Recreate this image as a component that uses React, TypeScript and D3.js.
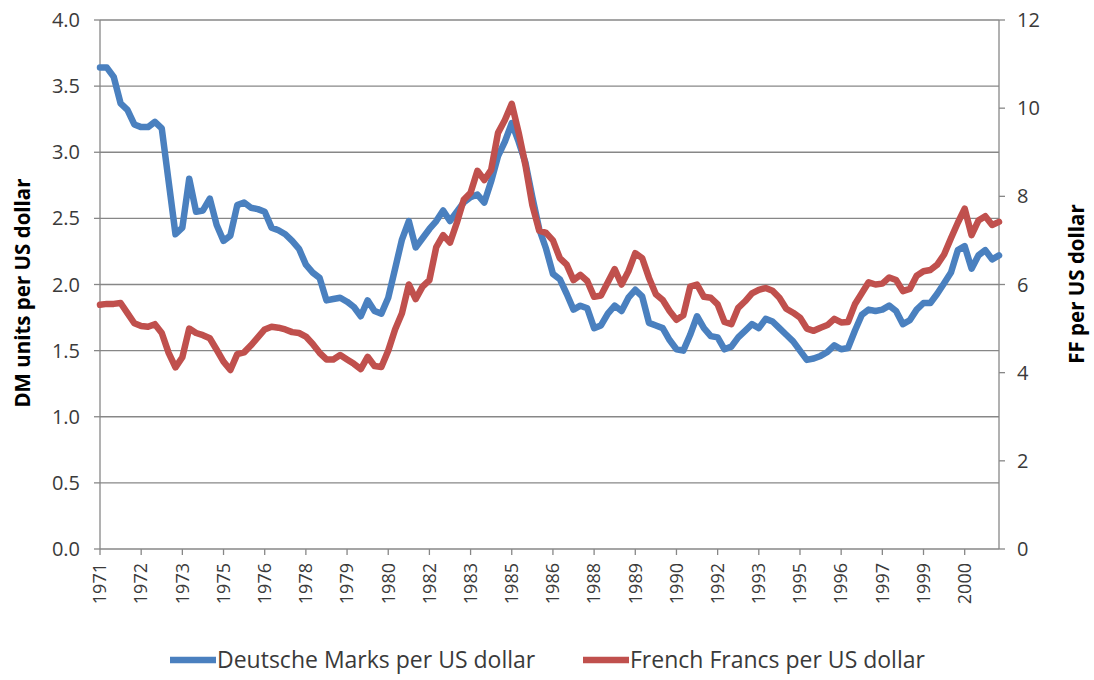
import React from 'react';
import * as d3 from 'd3';

const tickLabels = ['1971','1972','1973','1975','1976','1978','1979','1980','1982','1983','1985','1986','1988','1989','1990','1992','1993','1995','1996','1997','1999','2000'];
const labelEvery = 6;

const dmValues = [
  3.64,3.64,3.57,3.37,3.32,3.21,3.19,3.19,3.23,3.18,
  2.78,2.38,2.43,2.80,2.55,2.56,2.65,2.45,2.33,2.37,
  2.60,2.62,2.58,2.57,2.55,2.43,2.41,2.38,2.33,2.27,
  2.15,2.09,2.05,1.88,1.89,1.90,1.87,1.83,1.76,1.88,
  1.80,1.78,1.90,2.12,2.34,2.48,2.28,2.35,2.42,2.48,
  2.56,2.48,2.55,2.62,2.66,2.68,2.62,2.78,2.97,3.08,
  3.22,3.08,2.92,2.66,2.42,2.27,2.08,2.04,1.93,1.81,
  1.84,1.82,1.67,1.69,1.78,1.84,1.80,1.90,1.96,1.91,
  1.71,1.69,1.67,1.58,1.51,1.50,1.62,1.76,1.67,1.61,
  1.60,1.51,1.53,1.60,1.65,1.70,1.67,1.74,1.72,1.67,
  1.62,1.57,1.50,1.43,1.44,1.46,1.49,1.54,1.51,1.52,
  1.65,1.77,1.81,1.80,1.81,1.84,1.80,1.70,1.73,1.81,
  1.86,1.86,1.93,2.01,2.09,2.26,2.29,2.12,2.22,2.26,
  2.19,2.22
];

const ffValues = [
  5.54,5.56,5.56,5.58,5.35,5.12,5.06,5.04,5.10,4.90,
  4.45,4.12,4.35,5.00,4.90,4.85,4.78,4.52,4.25,4.06,
  4.42,4.46,4.62,4.80,4.98,5.04,5.02,4.98,4.92,4.90,
  4.82,4.65,4.45,4.30,4.30,4.40,4.30,4.20,4.08,4.36,
  4.15,4.13,4.50,4.98,5.35,6.00,5.67,5.95,6.10,6.85,
  7.12,6.95,7.40,7.92,8.08,8.58,8.37,8.60,9.44,9.73,
  10.10,9.45,8.70,7.80,7.22,7.17,7.00,6.60,6.45,6.10,
  6.22,6.08,5.72,5.75,6.05,6.35,6.00,6.30,6.71,6.60,
  6.15,5.78,5.65,5.40,5.20,5.30,5.95,6.00,5.72,5.70,
  5.55,5.15,5.10,5.47,5.62,5.80,5.88,5.92,5.86,5.70,
  5.45,5.36,5.25,5.00,4.95,5.02,5.08,5.22,5.14,5.15,
  5.55,5.80,6.05,6.00,6.02,6.16,6.10,5.85,5.90,6.20,
  6.30,6.33,6.45,6.68,7.05,7.40,7.72,7.12,7.45,7.55,
  7.35,7.42
];

const dmTicks = [0, 0.5, 1.0, 1.5, 2.0, 2.5, 3.0, 3.5, 4.0];
const ffTicks = [0, 2, 4, 6, 8, 10, 12];

const BLUE = '#4A80BF';
const RED = '#C0504D';
const GRID = '#878787';
const FONT = '"Open Sans", "Liberation Sans", sans-serif';

export default function App() {
  const W = 1094, H = 680;
  const left = 100, right = 999, top = 20, bottom = 549;
  const x = d3.scaleLinear().domain([0, dmValues.length - 1]).range([left, right]);
  const yL = d3.scaleLinear().domain([0, 4]).range([bottom, top]);
  const yR = d3.scaleLinear().domain([0, 12]).range([bottom, top]);
  const lineDM = d3.line<number>().x((_, i) => x(i)).y(d => yL(d));
  const lineFF = d3.line<number>().x((_, i) => x(i)).y(d => yR(d));

  return (
    <svg width={W} height={H} style={{ position: 'absolute', left: 0, top: 0, background: '#fff' }} fontFamily={FONT}>
      <rect width={W} height={H} fill="#fff" />
      {dmTicks.filter(t => t > 0).map(t => (
        <line key={'g' + t} x1={left} x2={right} y1={yL(t)} y2={yL(t)} stroke={GRID} strokeWidth={1.3} />
      ))}
      {/* left axis */}
      <line x1={left} x2={left} y1={top} y2={bottom} stroke={GRID} strokeWidth={1.3} />
      {dmTicks.map(t => (
        <g key={'l' + t}>
          <line x1={left - 6} x2={left} y1={yL(t)} y2={yL(t)} stroke={GRID} strokeWidth={1.3} />
          <text x={80} y={yL(t)} dy="0.35em" textAnchor="end" fontSize={20} fill="#3a3a3a">{t.toFixed(1)}</text>
        </g>
      ))}
      {/* right axis */}
      <line x1={right} x2={right} y1={top} y2={bottom} stroke={GRID} strokeWidth={1.3} />
      {ffTicks.map(t => (
        <g key={'r' + t}>
          <line x1={right} x2={right + 6} y1={yR(t)} y2={yR(t)} stroke={GRID} strokeWidth={1.3} />
          <text x={1017} y={yR(t)} dy="0.35em" textAnchor="start" fontSize={20} fill="#3a3a3a">{t}</text>
        </g>
      ))}
      {/* x axis */}
      <line x1={left} x2={right} y1={bottom} y2={bottom} stroke={GRID} strokeWidth={1.3} />
      {tickLabels.map((lab, k) => {
        const xi = x(k * labelEvery);
        return (
          <g key={'x' + k}>
            <line x1={xi} x2={xi} y1={bottom} y2={bottom + 6} stroke={GRID} strokeWidth={1.3} />
            <text transform={`translate(${xi},${563}) rotate(-90)`} dy="0.35em" textAnchor="end" fontSize={18} fill="#3a3a3a">{lab}</text>
          </g>
        );
      })}
      {/* series */}
      <path d={lineDM(dmValues) || ''} fill="none" stroke={BLUE} strokeWidth={6.5} strokeLinejoin="round" strokeLinecap="round" />
      <path d={lineFF(ffValues) || ''} fill="none" stroke={RED} strokeWidth={6.5} strokeLinejoin="round" strokeLinecap="round" />
      {/* axis titles */}
      <text transform={`translate(23,293) rotate(-90)`} textAnchor="middle" dy="0.35em" fontSize={20.5} fontWeight="bold" fill="#000">DM units per US dollar</text>
      <text transform={`translate(1077,284) rotate(-90)`} textAnchor="middle" dy="0.35em" fontSize={20.5} fontWeight="bold" fill="#000">FF per US dollar</text>
      {/* legend */}
      <line x1={170} x2={216} y1={660} y2={660} stroke={BLUE} strokeWidth={6.5} />
      <text x={217} y={660} dy="0.35em" fontSize={23} fill="#3a3a3a">Deutsche Marks per US dollar</text>
      <line x1={583} x2={629} y1={660} y2={660} stroke={RED} strokeWidth={6.5} />
      <text x={630} y={660} dy="0.35em" fontSize={23} fill="#3a3a3a">French Francs per US dollar</text>
    </svg>
  );
}
